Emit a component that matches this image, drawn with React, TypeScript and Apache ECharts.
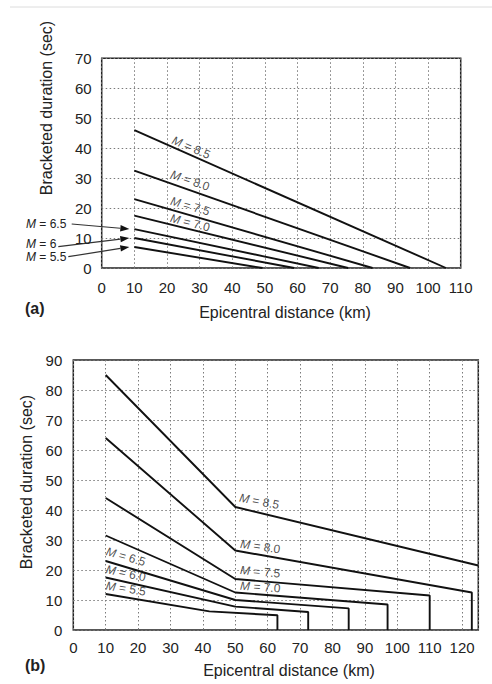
import React, { useEffect, useRef } from "react";
import * as echarts from "echarts";

// ---------- data ----------
const magnitudes = ["8.5", "8.0", "7.5", "7.0", "6.5", "6.0", "5.5"];

// (a) straight lines from 10 km down to zero duration
const aStartDistance = 10;
const aStartDuration = [46, 32.5, 23, 17.5, 13, 10, 7];
const aEndDistance = [105.5, 94.5, 83, 75.5, 66.5, 59, 49.3];

// (b) piecewise lines [distance km, duration sec]
const bM85 = [[10, 85], [50, 41], [125, 21.5]];
const bM80 = [[10, 64], [50, 26.5], [123, 12.5], [123, 0]];
const bM75 = [[10, 44], [50, 17], [110, 11.5], [110, 0]];
const bM70 = [[10, 31.5], [50, 12.5], [97, 8.5], [97, 0]];
const bM65 = [[10, 23], [50, 10], [85, 7.2], [85, 0]];
const bM60 = [[10, 17.5], [50, 7.8], [72.5, 6], [72.5, 0]];
const bM55 = [[10, 12], [42, 6.2], [63, 4.9], [63, 0]];
const bSeries = [bM85, bM80, bM75, bM70, bM65, bM60, bM55];

// axis ranges
const aXMax = 110;
const aYMax = 70;
const bXMax = 125;
const bYMax = 90;
const tickStep = 10;

// label anchors (data coords) and rotations
const aLabelAt = [[27.4, 40.2], [27.1, 29.2], [27.1, 20.6], [27.1, 15.1]];
const aLabelRot = [-23, -19, -16, -14];
const bLabelAt = [[57.4, 42.9], [57.7, 27.8], [57.7, 19.4], [57.7, 14.3], [16.2, 24.4], [16.2, 18.9], [16.2, 13.8]];
const bLabelRot = [-11, -8, -5, -4, -16, -12, -9];

const FONT = "'Liberation Sans', Arial, Helvetica, sans-serif";
const TXT = "#222";
const LINE = "#111";

function mLabel(m: string) {
  return "{i|M} = " + m;
}

export default function App() {
  const ref = useRef<HTMLDivElement>(null);

  useEffect(() => {
    document.body.style.margin = "0";
    const chart = echarts.init(ref.current!, null, { renderer: "svg" });

    const splitLine = {
      show: true,
      lineStyle: { color: "#7a7a7a", type: [1.5, 2.5] as any, width: 1 },
    };
    const axisLabel = (margin: number) => ({
      color: TXT,
      fontSize: 15,
      fontFamily: FONT,
      margin,
      showMaxLabel: false,
    });

    const richLabel = (rotate: number) => ({
      show: true,
      position: "inside",
      rotate,
      color: TXT,
      fontSize: 12,
      fontFamily: FONT,
      textBorderWidth: 0,
      textBorderColor: "transparent",
      formatter: (p: any) => mLabel(p.name),
      rich: {
        i: { fontStyle: "italic", fontSize: 12, fontFamily: FONT, color: TXT, textBorderWidth: 0, textBorderColor: "transparent" },
      },
    });

    const series: any[] = [];
    magnitudes.forEach((m, i) => {
      series.push({
        type: "line",
        xAxisIndex: 0,
        yAxisIndex: 0,
        data: [
          [aStartDistance, aStartDuration[i]],
          [aEndDistance[i], 0],
        ],
        symbol: "none",
        lineStyle: { color: LINE, width: 1.9 },
        silent: true,
      });
      series.push({
        type: "line",
        xAxisIndex: 1,
        yAxisIndex: 1,
        data: bSeries[i],
        symbol: "none",
        lineStyle: { color: LINE, width: 1.9 },
        silent: true,
      });
    });

    series.push({
      type: "scatter",
      xAxisIndex: 0,
      yAxisIndex: 0,
      symbolSize: 0,
      silent: true,
      itemStyle: { color: TXT },
      data: aLabelAt.map((p, i) => ({
        name: magnitudes[i],
        value: p,
        label: richLabel(aLabelRot[i]),
      })),
    });
    series.push({
      type: "scatter",
      xAxisIndex: 1,
      yAxisIndex: 1,
      symbolSize: 0,
      silent: true,
      itemStyle: { color: TXT },
      data: bLabelAt.map((p, i) => ({
        name: magnitudes[i],
        value: p,
        label: richLabel(bLabelRot[i]),
      })),
    });

    chart.setOption({
      animation: false,
      backgroundColor: "#fff",
      grid: [
        { left: 101.7, top: 58.3, width: 359, height: 209.7, show: true, borderColor: "#222", borderWidth: 1.5, backgroundColor: "transparent" },
        { left: 73.3, top: 360, width: 405, height: 270, show: true, borderColor: "#222", borderWidth: 1.5, backgroundColor: "transparent" },
      ],
      xAxis: [
        {
          type: "value", gridIndex: 0, min: 0, max: aXMax, interval: tickStep,
          axisLine: { show: false }, axisTick: { show: false },
          axisLabel: { ...axisLabel(12), showMaxLabel: true }, splitLine,
        },
        {
          type: "value", gridIndex: 1, min: 0, max: bXMax, interval: tickStep,
          axisLine: { show: false }, axisTick: { show: false },
          axisLabel: { ...axisLabel(10), formatter: (v: number) => (v % 10 === 0 ? String(v) : "") }, splitLine,
        },
      ],
      yAxis: [
        {
          type: "value", gridIndex: 0, min: 0, max: aYMax, interval: tickStep,
          axisLine: { show: false }, axisTick: { show: false },
          axisLabel: { ...axisLabel(10), showMaxLabel: true }, splitLine,
        },
        {
          type: "value", gridIndex: 1, min: 0, max: bYMax, interval: tickStep,
          axisLine: { show: false }, axisTick: { show: false },
          axisLabel: { ...axisLabel(11), showMaxLabel: true }, splitLine,
        },
      ],
      series,
    });

    // ---------- annotations ----------
    const textStyle = (text: string, size: number, extra: any = {}) => ({
      text,
      fontSize: size,
      fontFamily: FONT,
      fill: TXT,
      ...extra,
    });

    const arrowTexts = [
      { idx: 4, tx: 26, ty: 225, sx: 71.7, sy: 224 },
      { idx: 5, tx: 26, ty: 245, sx: 58.3, sy: 246.7 },
      { idx: 6, tx: 26, ty: 258.3, sx: 68.3, sy: 256.7 },
    ];
    const arrowEls: any[] = [];
    arrowTexts.forEach((a) => {
      const p = chart.convertToPixel({ gridIndex: 0 } as any, [aStartDistance, aStartDuration[a.idx]]) as number[];
      const tipX = p[0] - 5;
      const tipY = p[1];
      const dx = tipX - a.sx;
      const dy = tipY - a.sy;
      const len = Math.sqrt(dx * dx + dy * dy);
      const ux = dx / len;
      const uy = dy / len;
      const bx = tipX - ux * 9;
      const by = tipY - uy * 9;
      const px = -uy * 3.2;
      const py = ux * 3.2;
      arrowEls.push({
        type: "text",
        left: a.tx,
        top: a.ty - 7,
        style: textStyle("{i|M} = " + (a.idx === 5 ? "6" : magnitudes[a.idx]), 12, {
          rich: { i: { fontStyle: "italic", fontSize: 12, fontFamily: FONT, fill: TXT } },
        }),
      });
      arrowEls.push({
        type: "line",
        shape: { x1: a.sx, y1: a.sy, x2: bx, y2: by },
        style: { stroke: "#333", lineWidth: 1.2 },
      });
      arrowEls.push({
        type: "polygon",
        shape: { points: [[tipX, tipY], [bx + px, by + py], [bx - px, by - py]] },
        style: { fill: "#111" },
      });
    });

    chart.setOption({
      graphic: {
        elements: [
          { type: "line", shape: { x1: 10, y1: 7, x2: 492, y2: 7 }, style: { stroke: "#dcdcdc", lineWidth: 1 } },
          {
            type: "text", x: 46, y: 108, rotation: Math.PI / 2,
            style: textStyle("Bracketed duration (sec)", 16, { align: "center", verticalAlign: "middle" }),
          },
          {
            type: "text", x: 285, y: 312,
            style: textStyle("Epicentral distance (km)", 16, { align: "center", verticalAlign: "middle" }),
          },
          {
            type: "text", x: 25, y: 308,
            style: textStyle("(a)", 16, { fontWeight: "bold", verticalAlign: "middle" }),
          },
          {
            type: "text", x: 26, y: 482, rotation: Math.PI / 2,
            style: textStyle("Bracketed duration (sec)", 16, { align: "center", verticalAlign: "middle" }),
          },
          {
            type: "text", x: 289, y: 670,
            style: textStyle("Epicentral distance (km)", 16, { align: "center", verticalAlign: "middle" }),
          },
          {
            type: "text", x: 25, y: 665,
            style: textStyle("(b)", 16, { fontWeight: "bold", verticalAlign: "middle" }),
          },
          ...arrowEls,
        ],
      },
    });

    return () => chart.dispose();
  }, []);

  return <div ref={ref} style={{ position: "fixed", left: 0, top: 0, width: 492, height: 684 }} />;
}
